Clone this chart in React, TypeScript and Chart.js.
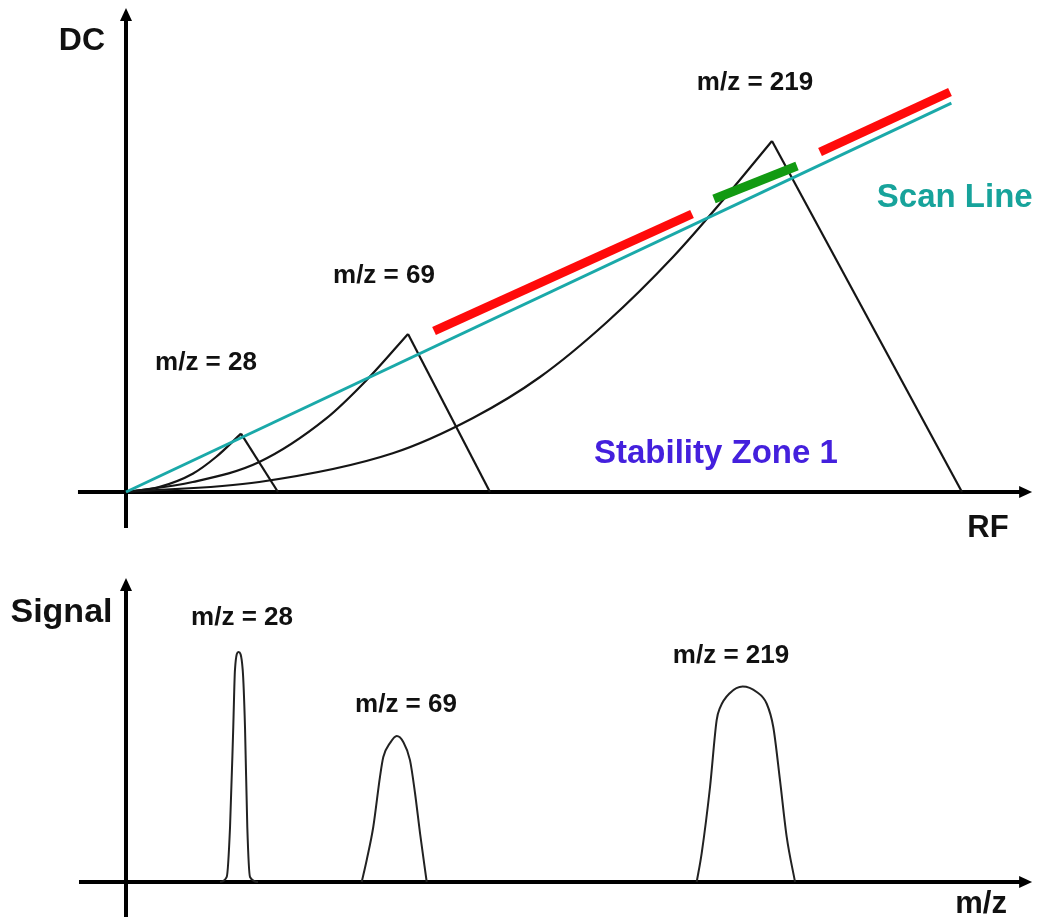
import React, { useEffect, useRef } from 'react';
import { Chart, registerables } from 'chart.js';

Chart.register(...registerables);

type P = { x: number; y: number };
const pts = (xs: number[], ys: number[]): P[] => xs.map((x, i) => ({ x, y: ys[i] }));

// ---------------- Top panel: DC vs RF (stability diagram) ----------------
const scanRF = [0, 97.1];
const scanDC = [0, 97.2];

const mz28CurveRF = [0, 3.88, 7.85, 10.59, 13.53];
const mz28CurveDC = [0, 1.25, 4.58, 8.75, 14.6];
const mz28LegRF = [13.53, 17.88];
const mz28LegDC = [14.6, 0];

const mz69CurveRF = [0, 7.85, 15.68, 23.53, 28.32, 33.18];
const mz69CurveDC = [0, 2.5, 7.5, 18.33, 28, 39.5];
const mz69LegRF = [33.18, 42.82];
const mz69LegDC = [39.5, 0];

const mz219CurveRF = [0, 15.68, 31.38, 40.82, 48.71, 56.59, 64.35, 70.24, 76.0];
const mz219CurveDC = [0, 2.5, 9.68, 18.5, 28.75, 42.5, 58.75, 73, 87.75];
const mz219LegRF = [76.0, 98.35];
const mz219LegDC = [87.75, 0];

const red1RF = [36.24, 66.59];
const red1DC = [40.25, 69.5];
const greenRF = [69.18, 78.94];
const greenDC = [73.25, 81.5];
const red2RF = [81.65, 96.94];
const red2DC = [85, 100];

// ---------------- Bottom panel: Signal vs m/z ----------------
const peak28X = [11.06, 11.85, 12.24, 12.62, 12.82, 13.24, 13.73, 14.0, 14.27, 14.59, 15.53];
const peak28Y = [0, 2.2, 23.9, 67.4, 92.2, 100, 92.2, 67.4, 23.9, 2.2, 0];
const peak69X = [27.73, 28.32, 29.09, 29.88, 30.27, 31.06, 31.85, 32.62, 33.41, 34.0, 34.59, 35.38];
const peak69Y = [0, 9.6, 23.9, 45.7, 54.3, 60.4, 63.5, 60.9, 53, 38.7, 21.3, 0];
const peak219X = [67.14, 67.73, 68.71, 69.49, 69.88, 71.06, 72.55, 74.2, 75.38, 76.15, 76.94, 77.73, 78.71];
const peak219Y = [0, 12.6, 41.3, 70.4, 75.7, 82.2, 85, 82.6, 77.5, 67.4, 44.3, 19.6, 0];

// ---------------- Annotations (text + anchor in data units) ----------------
type Label = { text: string; x: number; y: number; color: string; size: number };
const topLabels: Label[] = [
  { text: 'DC', x: -5.18, y: 110.5, color: '#111', size: 32 },
  { text: 'RF', x: 101.4, y: -11.25, color: '#111', size: 31 },
  { text: 'm/z = 219', x: 74.0, y: 100.5, color: '#111', size: 26 },
  { text: 'm/z = 69', x: 30.35, y: 52.25, color: '#111', size: 26 },
  { text: 'm/z = 28', x: 9.41, y: 30.5, color: '#111', size: 26 },
  { text: 'Scan Line', x: 97.5, y: 71.25, color: '#17a39b', size: 33 },
  { text: 'Stability Zone 1', x: 69.4, y: 7.25, color: '#4420dd', size: 33 },
];
const bottomLabels: Label[] = [
  { text: 'Signal', x: -7.59, y: 113, color: '#111', size: 34 },
  { text: 'm/z = 28', x: 13.65, y: 111.7, color: '#111', size: 26 },
  { text: 'm/z = 69', x: 32.94, y: 73.9, color: '#111', size: 26 },
  { text: 'm/z = 219', x: 71.18, y: 95.2, color: '#111', size: 26 },
  { text: 'm/z', x: 100.6, y: -13.5, color: '#111', size: 31 },
];

type AxisExtent = { xFrom: number; xTo: number; yFrom: number; yTo: number };
const topAxes: AxisExtent = { xFrom: -5.65, xTo: 106.6, yFrom: -9, yTo: 121 };
const bottomAxes: AxisExtent = { xFrom: -5.53, xTo: 106.6, yFrom: -15.2, yTo: 132.2 };

const FONT = '"Liberation Sans", Arial, Helvetica, sans-serif';

const decorPlugin = (axes: AxisExtent, labels: Label[]) => ({
  id: 'decor',
  beforeDatasetsDraw(chart: any) {
    const { ctx } = chart;
    const xs = chart.scales.x;
    const ys = chart.scales.y;
    const ox = xs.getPixelForValue(0);
    const oy = ys.getPixelForValue(0);
    const xa = xs.getPixelForValue(axes.xFrom);
    const xb = xs.getPixelForValue(axes.xTo);
    const ya = ys.getPixelForValue(axes.yFrom);
    const yb = ys.getPixelForValue(axes.yTo);
    ctx.save();
    ctx.strokeStyle = '#000';
    ctx.fillStyle = '#000';
    ctx.lineWidth = 4;
    ctx.beginPath();
    ctx.moveTo(xa, oy);
    ctx.lineTo(xb - 8, oy);
    ctx.stroke();
    ctx.beginPath();
    ctx.moveTo(xb, oy);
    ctx.lineTo(xb - 13, oy - 6);
    ctx.lineTo(xb - 13, oy + 6);
    ctx.closePath();
    ctx.fill();
    ctx.beginPath();
    ctx.moveTo(ox, ya);
    ctx.lineTo(ox, yb + 8);
    ctx.stroke();
    ctx.beginPath();
    ctx.moveTo(ox, yb);
    ctx.lineTo(ox - 6, yb + 13);
    ctx.lineTo(ox + 6, yb + 13);
    ctx.closePath();
    ctx.fill();
    ctx.restore();
  },
  afterDatasetsDraw(chart: any) {
    const { ctx } = chart;
    const xs = chart.scales.x;
    const ys = chart.scales.y;
    ctx.save();
    ctx.textAlign = 'center';
    ctx.textBaseline = 'alphabetic';
    for (const l of labels) {
      ctx.font = `bold ${l.size}px ${FONT}`;
      ctx.fillStyle = l.color;
      ctx.fillText(l.text, xs.getPixelForValue(l.x), ys.getPixelForValue(l.y));
    }
    ctx.restore();
  },
});

const line = (data: P[], color: string, width: number, curved: boolean) => ({
  data,
  borderColor: color,
  borderWidth: width,
  pointRadius: 0,
  fill: false,
  clip: false as any,
  tension: curved ? 0.4 : 0,
  cubicInterpolationMode: curved ? ('monotone' as const) : ('default' as const),
  borderCapStyle: 'butt' as const,
  borderJoinStyle: 'round' as const,
});

const baseOptions = (padding: { left: number; right: number; top: number; bottom: number }) => ({
  responsive: false,
  animation: false as const,
  events: [] as any[],
  layout: { padding },
  plugins: { legend: { display: false }, tooltip: { enabled: false }, title: { display: false } },
  scales: {
    x: { type: 'linear' as const, min: 0, max: 100, display: false },
    y: { type: 'linear' as const, min: 0, max: 100, display: false },
  },
});

export default function App() {
  const topRef = useRef<HTMLCanvasElement>(null);
  const botRef = useRef<HTMLCanvasElement>(null);

  useEffect(() => {
    const black = '#151515';
    const cyan = '#1aa9a9';
    const top = new Chart(topRef.current!, {
      type: 'line',
      data: {
        datasets: [
          line(pts(red1RF, red1DC), '#ff0a0a', 9, false),
          line(pts(greenRF, greenDC), '#129a12', 9, false),
          line(pts(red2RF, red2DC), '#ff0a0a', 9, false),
          line(pts(scanRF, scanDC), cyan, 3, false),
          line(pts(mz28CurveRF, mz28CurveDC), black, 2.2, true),
          line(pts(mz28LegRF, mz28LegDC), black, 2.2, false),
          line(pts(mz69CurveRF, mz69CurveDC), black, 2.2, true),
          line(pts(mz69LegRF, mz69LegDC), black, 2.2, false),
          line(pts(mz219CurveRF, mz219CurveDC), black, 2.2, true),
          line(pts(mz219LegRF, mz219LegDC), black, 2.2, false),
        ] as any,
      },
      options: baseOptions({ left: 126, right: 68, top: 92, bottom: 68 }) as any,
      plugins: [decorPlugin(topAxes, topLabels)],
    });

    const bottom = new Chart(botRef.current!, {
      type: 'line',
      data: {
        datasets: [
          line(pts(peak28X, peak28Y), '#222', 2, true),
          line(pts(peak69X, peak69Y), '#222', 2, true),
          line(pts(peak219X, peak219Y), '#222', 2, true),
        ] as any,
      },
      options: baseOptions({ left: 126, right: 68, top: 92, bottom: 35 }) as any,
      plugins: [decorPlugin(bottomAxes, bottomLabels)],
    });

    return () => {
      top.destroy();
      bottom.destroy();
    };
  }, []);

  return (
    <div style={{ position: 'absolute', left: 0, top: 0, width: 1044, height: 917, background: '#fff' }}>
      <canvas ref={topRef} width={1044} height={560} style={{ display: 'block', position: 'absolute', left: 0, top: 0 }} />
      <canvas ref={botRef} width={1044} height={357} style={{ display: 'block', position: 'absolute', left: 0, top: 560 }} />
    </div>
  );
}
